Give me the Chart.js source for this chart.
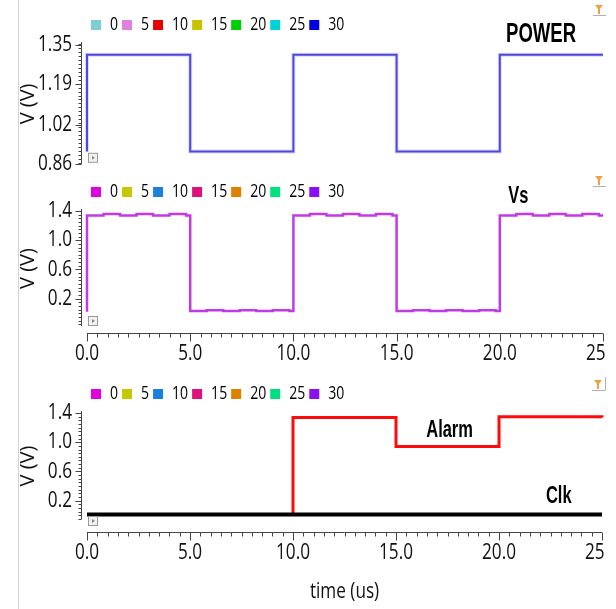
<!DOCTYPE html>
<html>
<head>
<meta charset="utf-8">
<script src="https://cdn.jsdelivr.net/npm/chart.js@4.4.1/dist/chart.umd.min.js"></script>
<style>
  html, body { margin: 0; padding: 0; background: #fff; overflow: hidden; }
  #wrap { position: relative; width: 606px; height: 609px; overflow: hidden; }
  #borda { position: absolute; left: 18px; top: 0; width: 1px; height: 609px; background: #d4d4d4; }
  canvas { position: absolute; left: 0; }
</style>
</head>
<body>
<div id="wrap">
  <div id="borda"></div>
  <canvas id="c1" width="640" height="192" style="top:0px"></canvas>
  <canvas id="c2" width="640" height="200" style="top:172px"></canvas>
  <canvas id="c3" width="640" height="237" style="top:372px"></canvas>
</div>
<script>
const FONTE = "'Open Sans', 'Noto Sans', sans-serif";
const FONTE_ROTULO = "'Liberation Sans', Arial, sans-serif";
const ESTREITO = 0.78; // a figura original tem o texto comprimido na horizontal

// legenda (valores do sweep)
const legendNames = ['0', '5', '10', '15', '20', '25', '30'];
const legendColorsPower = ['#7ccfd2', '#df82df', '#e60000', '#c8c200', '#00d000', '#00d2d8', '#0000e0'];
const legendColorsSinal = ['#e000e0', '#c8c800', '#1a80e0', '#e0107a', '#e08000', '#00e080', '#8a10f0'];

// eixo x
const xTickValues = [0, 5, 10, 15, 20, 25];
const xTickLabels = ['0.0', '5.0', '10.0', '15.0', '20.0', '25.0'];

// eixo y
const yTicksPower = [0.86, 1.02, 1.19, 1.35];
const yLabelsPower = ['0.86', '1.02', '1.19', '1.35'];
const yTicksVs = [0.2, 0.6, 1.0, 1.4];
const yLabelsVs = ['0.2', '0.6', '1.0', '1.4'];

// POWER
const tPower = [0, 0, 5, 10, 15, 20, 25];
const vPower = [0.91, 1.31, 0.91, 1.31, 0.91, 1.31, 1.31];

// Vs
const tVs = [0, 0, 0.8, 1.6, 2.4, 3.2, 4.0, 4.8,
  5, 5.8, 6.6, 7.4, 8.2, 9.0, 9.8,
  10, 10.8, 11.6, 12.4, 13.2, 14.0, 14.8,
  15, 15.8, 16.6, 17.4, 18.2, 19.0, 19.8,
  20, 20.8, 21.6, 22.4, 23.2, 24.0, 24.8, 25];
const vVs = [0.02, 1.34, 1.36, 1.34, 1.36, 1.34, 1.36, 1.34,
  0.03, 0.04, 0.03, 0.04, 0.03, 0.04, 0.03,
  1.34, 1.36, 1.34, 1.36, 1.34, 1.36, 1.34,
  0.03, 0.04, 0.03, 0.04, 0.03, 0.04, 0.03,
  1.34, 1.36, 1.34, 1.36, 1.34, 1.36, 1.34, 1.34];

// Alarm e Clk
const tAlarm = [0, 10, 15, 20, 25];
const vAlarm = [0.01, 1.34, 0.94, 1.35, 1.34];
const tClk = [0, 25];
const vClk = [0.01, 0.01];

const pontos = (t, v) => t.map((x, i) => ({ x: x, y: v[i] }));

// texto horizontal comprimido (texto girado fica como está)
const pluginEstreito = {
  id: 'estreito',
  beforeInit(chart) {
    const ctx = chart.ctx;
    const escrever = ctx.fillText.bind(ctx);
    const medir = ctx.measureText.bind(ctx);
    ctx.fillText = (texto, x, y) => {
      if (ctx.getTransform().b !== 0) {
        escrever(texto, x, y);
        return;
      }
      ctx.save();
      ctx.translate(x, y);
      ctx.scale(ESTREITO, 1);
      escrever(texto, 0, 0);
      ctx.restore();
    };
    ctx.measureText = texto => {
      const m = medir(texto);
      return {
        width: m.width * ESTREITO,
        actualBoundingBoxAscent: m.actualBoundingBoxAscent,
        actualBoundingBoxDescent: m.actualBoundingBoxDescent
      };
    };
  }
};

// desenha eixos com ticks menores, icones e rotulos
const pluginEixos = {
  id: 'eixos',
  afterDraw(chart, args, opts) {
    const ctx = chart.ctx;
    const { left, right, top, bottom } = chart.chartArea;
    const sx = chart.scales.x, sy = chart.scales.y;
    ctx.save();
    ctx.strokeStyle = '#444';
    ctx.lineWidth = 1;

    // eixo y
    const ax = Math.round(left - 6) + 0.5;
    ctx.beginPath();
    ctx.moveTo(ax, sy.getPixelForValue(sy.max) - 2);
    ctx.lineTo(ax, sy.getPixelForValue(sy.min));
    const inicio = Math.ceil(sy.min / opts.passoY);
    const fim = Math.floor(sy.max / opts.passoY);
    for (let k = inicio; k <= fim; k++) {
      const py = Math.round(sy.getPixelForValue(k * opts.passoY)) + 0.5;
      ctx.moveTo(ax, py);
      ctx.lineTo(ax - 3, py);
    }
    sy.ticks.forEach(t => {
      const py = Math.round(sy.getPixelForValue(t.value)) + 0.5;
      ctx.moveTo(ax, py);
      ctx.lineTo(ax - 6, py);
    });
    ctx.stroke();

    // eixo x
    if (opts.eixoX) {
      const ay = Math.round(bottom + opts.gapX) + 0.5;
      ctx.beginPath();
      ctx.moveTo(sx.getPixelForValue(0), ay);
      ctx.lineTo(sx.getPixelForValue(25), ay);
      for (let k = 0; k <= 50; k++) {
        const px = Math.round(sx.getPixelForValue(k * 0.5)) + 0.5;
        ctx.moveTo(px, ay);
        ctx.lineTo(px, ay + (k % 10 === 0 ? 8 : 4));
      }
      ctx.stroke();
    }

    // icone pequeno no canto inferior esquerdo
    const bx = left + 1, by = bottom + opts.caixaY;
    ctx.fillStyle = '#f2f2f2';
    ctx.strokeStyle = '#9a9a9a';
    ctx.fillRect(bx, by, 10, 10);
    ctx.strokeRect(bx + 0.5, by + 0.5, 9, 9);
    ctx.fillStyle = '#8a8a8a';
    ctx.beginPath();
    ctx.moveTo(bx + 4, by + 3);
    ctx.lineTo(bx + 7, by + 5);
    ctx.lineTo(bx + 4, by + 7);
    ctx.fill();

    // funil laranja no canto superior direito
    const fx = right - 3, fy = opts.funilY;
    ctx.fillStyle = '#f0a040';
    ctx.beginPath();
    ctx.moveTo(fx - 5, fy);
    ctx.lineTo(fx + 3, fy);
    ctx.lineTo(fx - 1, fy + 5);
    ctx.fill();
    ctx.fillRect(fx - 2, fy + 4, 2, 5);
    ctx.strokeStyle = '#b0b0b0';
    ctx.beginPath();
    ctx.moveTo(fx + 6.5, fy - 3);
    ctx.lineTo(fx + 6.5, fy + 10);
    ctx.moveTo(fx - 7, fy + 10.5);
    ctx.lineTo(fx + 6.5, fy + 10.5);
    ctx.stroke();

    // rotulos dos sinais
    ctx.fillStyle = '#000';
    ctx.textAlign = 'center';
    ctx.textBaseline = 'middle';
    opts.rotulos.forEach(r => {
      ctx.save();
      ctx.font = 'bold ' + r.tam + 'px ' + FONTE_ROTULO;
      ctx.translate(sx.getPixelForValue(r.x), sy.getPixelForValue(r.y));
      ctx.scale(0.88, 1);
      ctx.fillText(r.texto, 0, 0);
      ctx.restore();
    });
    ctx.restore();
  }
};

function montarGrafico(id, cfg) {
  return new Chart(document.getElementById(id), {
    type: 'line',
    data: { datasets: cfg.datasets },
    options: {
      responsive: false,
      animation: false,
      events: [],
      layout: { padding: { top: cfg.topo, right: 37, bottom: 0, left: 0 } },
      elements: { point: { radius: 0 }, line: { stepped: true, tension: 0 } },
      plugins: {
        legend: {
          display: true,
          position: 'top',
          align: 'start',
          fullSize: false,
          labels: {
            boxWidth: 10,
            boxHeight: 10,
            padding: 4,
            color: '#111',
            font: { family: FONTE, size: 18 },
            generateLabels: () => legendNames.map((n, i) => ({
              text: n, fillStyle: cfg.cores[i], strokeStyle: cfg.cores[i],
              lineWidth: 0, hidden: false, datasetIndex: 0
            }))
          }
        },
        tooltip: { enabled: false },
        eixos: cfg.eixos
      },
      scales: {
        x: {
          type: 'linear',
          min: 0,
          max: 25,
          afterBuildTicks: s => { s.ticks = xTickValues.map(v => ({ value: v })); },
          afterFit: s => { s.height = cfg.alturaX; },
          grid: { display: false, drawTicks: false },
          border: { display: false },
          ticks: {
            display: cfg.rotulosX,
            padding: cfg.padX,
            color: '#111',
            maxRotation: 0,
            autoSkip: false,
            font: { family: FONTE, size: 22 },
            callback: (v, i) => xTickLabels[i]
          },
          title: {
            display: cfg.tituloX,
            text: 'time (us)',
            color: '#111',
            font: { family: FONTE, size: 22 },
            padding: { top: 0, bottom: 4 }
          }
        },
        y: {
          type: 'linear',
          min: cfg.yMin,
          max: cfg.yMax,
          afterBuildTicks: s => { s.ticks = cfg.yTicks.map(v => ({ value: v })); },
          afterFit: s => { s.width = 87; },
          grid: { display: false, drawTicks: false },
          border: { display: false },
          ticks: {
            padding: 15,
            color: '#111',
            font: { family: FONTE, size: 22 },
            callback: (v, i) => cfg.yLabels[i]
          },
          title: {
            display: true,
            text: 'V (V)',
            color: '#111',
            font: { family: FONTE, size: 20 },
            padding: { top: 16, bottom: 0 }
          }
        }
      }
    },
    plugins: [pluginEstreito, pluginEixos]
  });
}

montarGrafico('c1', {
  topo: 12, rotulosX: false, alturaX: 20, padX: 0, tituloX: false,
  yMin: 0.859, yMax: 1.354, yTicks: yTicksPower, yLabels: yLabelsPower,
  cores: legendColorsPower,
  eixos: { passoY: 0.0163, eixoX: false, gapX: 0, caixaY: -11, funilY: 5,
    rotulos: [{ texto: 'POWER', x: 22.0, y: 1.392, tam: 27 }] },
  datasets: [
    { data: pontos(tPower, vPower), borderColor: '#5048dc', borderWidth: 2, clip: 4 },
    { data: pontos(tPower, vPower), borderColor: 'rgba(140,130,235,0.3)', borderWidth: 4, clip: 6 }
  ]
});

montarGrafico('c2', {
  topo: 7, rotulosX: true, alturaX: 46, padX: 15, tituloX: false,
  yMin: -0.175, yMax: 1.4, yTicks: yTicksVs, yLabels: yLabelsVs,
  cores: legendColorsSinal,
  eixos: { passoY: 0.05, eixoX: true, gapX: 7, caixaY: -10, funilY: 4,
    rotulos: [{ texto: 'Vs', x: 20.9, y: 1.60, tam: 24 }] },
  datasets: [
    { data: pontos(tVs, vVs), borderColor: '#c23ae6', borderWidth: 2.5, clip: 4 }
  ]
});

montarGrafico('c3', {
  topo: 9, rotulosX: true, alturaX: 90, padX: 21, tituloX: true,
  yMin: -0.052, yMax: 1.4, yTicks: yTicksVs, yLabels: yLabelsVs,
  cores: legendColorsSinal,
  eixos: { passoY: 0.05, eixoX: true, gapX: 13, caixaY: -3, funilY: 8,
    rotulos: [{ texto: 'Alarm', x: 17.6, y: 1.16, tam: 24 }, { texto: 'Clk', x: 22.9, y: 0.256, tam: 24 }] },
  datasets: [
    { data: pontos(tClk, vClk), borderColor: '#000000', borderWidth: 4, clip: 4 },
    { data: pontos(tAlarm, vAlarm), borderColor: '#ff0a0a', borderWidth: 3, clip: 4 }
  ]
});
</script>
</body>
</html>
